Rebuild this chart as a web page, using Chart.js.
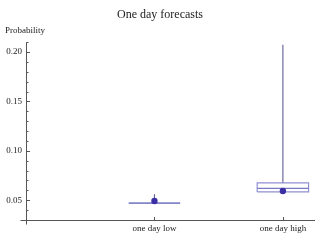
<!DOCTYPE html>
<html>
<head>
<meta charset="utf-8">
<script src="https://cdn.jsdelivr.net/npm/chart.js@4"></script>
<style>
  html, body { margin: 0; padding: 0; background: #fff; }
  #wrap { width: 335px; height: 246px; }
</style>
</head>
<body>
<div id="wrap"><canvas id="c" width="335" height="246"></canvas></div>
<script>
// ---- data ----
const categories = ['one day low', 'one day high'];
const whiskerMin = [0.0470, 0.0570];
const quartile1  = [0.0470, 0.0584];
const medians    = [0.0470, 0.0621];
const quartile3  = [0.0470, 0.0675];
const whiskerMax = [0.0560, 0.2074];
const means      = [0.0493, 0.0594];
const yTickValues = [0.05, 0.10, 0.15, 0.20];

// ---- build datasets from the arrays ----
const HALF = 0.2;
const serif = "'Liberation Serif', 'DejaVu Serif', serif";
const datasets = [];
// mean dots (first = drawn on top)
datasets.push({
  data: categories.map((c, i) => ({ x: i + 1, y: means[i] })),
  showLine: false, pointRadius: 3.2, pointHoverRadius: 3.2,
  pointBackgroundColor: '#3b2fa6', pointBorderColor: '#3b2fa6', pointBorderWidth: 0
});
categories.forEach((c, i) => {
  const x = i + 1;
  // median
  datasets.push({
    data: [{ x: x - HALF, y: medians[i] }, { x: x + HALF, y: medians[i] }],
    showLine: true, pointRadius: 0, borderColor: '#7a7ac4', borderWidth: 1.2, fill: false
  });
  // box
  datasets.push({
    data: [
      { x: x - HALF, y: quartile1[i] }, { x: x + HALF, y: quartile1[i] },
      { x: x + HALF, y: quartile3[i] }, { x: x - HALF, y: quartile3[i] },
      { x: x - HALF, y: quartile1[i] }
    ],
    showLine: true, pointRadius: 0, borderColor: '#9090d2', borderWidth: 1.2, fill: false
  });
  // upper whisker
  datasets.push({
    data: [{ x: x, y: quartile3[i] }, { x: x, y: whiskerMax[i] }],
    showLine: true, pointRadius: 0, borderColor: '#5e5e98', borderWidth: 1.1, fill: false
  });
  // lower whisker
  datasets.push({
    data: [{ x: x, y: whiskerMin[i] }, { x: x, y: quartile1[i] }],
    showLine: true, pointRadius: 0, borderColor: '#5e5e98', borderWidth: 1.1, fill: false
  });
});

const axesPlugin = {
  id: 'mmaAxes',
  beforeDatasetsDraw(chart) {
    const ctx = chart.ctx, a = chart.chartArea;
    const xs = chart.scales.x, ys = chart.scales.y;
    const L = Math.round(a.left) + 0.5, B = Math.round(a.bottom) + 0.5;
    ctx.save();
    ctx.strokeStyle = '#555';
    ctx.lineWidth = 1;
    ctx.beginPath();
    ctx.moveTo(L - 6, B); ctx.lineTo(a.right, B);
    ctx.moveTo(L, a.top); ctx.lineTo(L, B + 4);
    // y ticks (inward)
    for (let k = 3; k <= 21; k++) {
      const v = k / 100;
      const py = Math.round(ys.getPixelForValue(v)) + 0.5;
      const major = k % 5 === 0;
      ctx.moveTo(L, py); ctx.lineTo(L + (major ? 3.5 : 2), py);
    }
    // x ticks
    xs.ticks.forEach(t => {
      const px = Math.round(xs.getPixelForValue(t.value)) + 0.5;
      ctx.moveTo(px, B); ctx.lineTo(px, B - 3.5);
    });
    ctx.stroke();
    ctx.restore();
  }
};

new Chart(document.getElementById('c'), {
  type: 'scatter',
  data: { datasets },
  plugins: [axesPlugin],
  options: {
    responsive: false,
    animation: false,
    layout: { padding: { left: 5, right: 20, top: 0, bottom: 0 } },
    plugins: {
      legend: { display: false },
      tooltip: { enabled: false },
      title: {
        display: true, text: 'One day forecasts', color: '#222',
        font: { family: serif, size: 12, weight: 'normal' },
        padding: { top: 8, bottom: 2 }
      },
      subtitle: {
        display: true, text: 'Probability', align: 'start', color: '#222',
        font: { family: serif, size: 9, weight: 'normal' },
        padding: { top: 1, bottom: 6 }
      }
    },
    scales: {
      x: {
        type: 'linear', min: 0, max: 2.25,
        grid: { display: false, drawTicks: false },
        border: { display: false },
        afterBuildTicks: s => { s.ticks = categories.map((c, i) => ({ value: i + 1 })); },
        afterFit: s => { s.height = 26; },
        ticks: {
          autoSkip: false, maxRotation: 0, padding: 3, color: '#222',
          font: { family: serif, size: 9 },
          callback: (v, i) => categories[i]
        }
      },
      y: {
        type: 'linear', min: 0.03, max: 0.21,
        grid: { display: false, drawTicks: false },
        border: { display: false },
        afterBuildTicks: s => { s.ticks = yTickValues.map(v => ({ value: v })); },
        afterFit: s => { s.width = 21; },
        ticks: {
          padding: 4, color: '#222',
          font: { family: serif, size: 9 },
          callback: v => v.toFixed(2)
        }
      }
    }
  }
});
</script>
</body>
</html>
